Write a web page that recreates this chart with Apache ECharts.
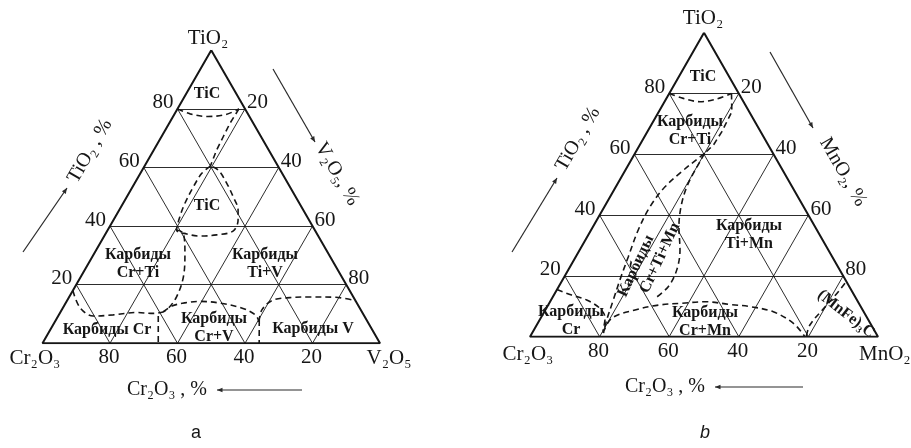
<!DOCTYPE html>
<html>
<head>
<meta charset="utf-8">
<script src="https://cdn.jsdelivr.net/npm/echarts@6/dist/echarts.min.js"></script>
<style>
html, body { margin: 0; padding: 0; background: #fff; }
#main { width: 911px; height: 448px; }
</style>
</head>
<body>
<div id="main"></div>
<script>
// ticks on every side of both triangles, %
var ticks = [20, 40, 60, 80];

// diagram a, points as [TiO2, Cr2O3, V2O5] %
var aTicTop = [[80, 20, 0], [78.3, 17.1, 4.6], [77.4, 12.3, 10.3], [78.1, 6.6, 15.3], [80, 1.8, 18.2]];
var aTicDiag = [[80, 1.8, 18.2], [75.1, 6.9, 18], [70.5, 11.2, 18.3], [66, 15.4, 18.6], [60.5, 20, 19.5]];
var aTicMid = [[60.5, 20, 19.5], [58, 23.8, 18.2], [53.4, 28.6, 18], [47.8, 33.9, 18.3], [43.2, 37.7, 19.1],
  [38.7, 40.9, 20.4], [37.3, 38.6, 24.1], [36.6, 35, 28.4], [37, 29.9, 33.1], [38.3, 24.4, 37.3],
  [42.1, 21, 36.9], [45.5, 19.3, 35.2], [50, 18.5, 31.5], [54.6, 18.1, 27.3], [59.1, 18.35, 22.55], [60.5, 20, 19.5]];
var aCrTi = [[38.7, 40.9, 20.4], [37.5, 39.5, 23], [30.7, 42.45, 26.85], [22.7, 46.9, 30.4],
  [15.9, 52.3, 31.8], [11.9, 56.8, 31.3], [10.7, 58.9, 30.4]];
var aCr = [[18, 82, 0], [12.2, 82.8, 5], [9.3, 80.3, 10.4], [9.7, 74.2, 16.1], [10.5, 66.9, 22.6],
  [10.2, 62.1, 27.7], [10.7, 58.9, 30.4]];
var aCrV = [[10.7, 58.9, 30.4], [12.7, 55.3, 32], [13.8, 50.9, 35.3], [14.3, 46.2, 39.5], [13.7, 40.5, 45.8],
  [11.9, 34.65, 53.45], [9.5, 32, 58.5], [7.3, 32.2, 60.5]];
var aV = [[7.3, 32.2, 60.5], [11.4, 29.3, 59.3], [14.6, 24.7, 60.7], [15.6, 18.9, 65.5], [15.8, 12.85, 71.35],
  [15.7, 5.2, 79.1], [14.5, 0, 85.5]];
var aCut1 = [[9.3, 61.05, 29.65], [0, 65.7, 34.3]];
var aCut2 = [[7.95, 31.8, 60.25], [0, 35.8, 64.2]];

// diagram b, points as [TiO2, Cr2O3, MnO2] %
var bTicTop = [[80, 20, 0], [78.4, 16.75, 4.85], [77.3, 12.5, 10.2], [78.2, 7.25, 14.55], [80, 2.1, 17.9]];
var bTicDiag = [[80, 2.1, 17.9], [74, 5, 21], [67.4, 11.2, 21.4], [63.1, 15.7, 21.2], [60.3, 19.7, 20]];
var bLensL = [[60.3, 19.7, 20], [58.7, 22.3, 19], [54.3, 29.25, 16.45], [49.3, 36.55, 14.15], [42.8, 44.1, 13.1],
  [35.1, 51.35, 13.55], [26.3, 58.6, 15.1], [18.65, 64.85, 16.5], [12.07, 70.03, 17.9], [5.5, 75.2, 19.3], [1.2, 78.3, 20.5]];
var bLensR = [[60.3, 19.7, 20], [57.6, 22.35, 20.05], [50.5, 29.25, 20.25], [43.9, 34.45, 21.65], [36.2, 39.1, 24.7],
  [28.5, 42.65, 28.85], [21.9, 46.9, 31.2], [16.45, 52.05, 31.5], [12.6, 57.8, 29.6]];
var bCrMn = [[1.2, 78.4, 20.4], [6.05, 73.5, 20.45], [8.8, 65.4, 25.8], [10.4, 57.9, 31.7], [11, 50.9, 38.1],
  [11.5, 43.95, 44.55], [10.6, 37.2, 52.2], [9.9, 31.85, 58.25], [8.2, 26, 65.8], [4.4, 22.1, 73.5], [0, 21, 79]];
var bCr = [[15.5, 84.5, 0], [13.7, 81.2, 5.1], [12.07, 77.68, 10.25], [9.34, 75.26, 15.4], [6.15, 75.35, 18.5], [1.9, 78.1, 20]];
var bFe = [[17.6, 0.7, 81.7], [14.8, 4, 81.2], [9.4, 10.8, 79.8], [3.85, 17.65, 78.5], [0, 20.6, 79.4]];

// ternary -> cartesian (x: right component + top/2, y: top component)
function xy(p) { return [p[2] + p[0] / 2, p[0]]; }

var ink = '#161616';
var serif = '"Liberation Serif", "DejaVu Serif", serif';

function frameSeries(i) {
  var outline = [[100, 0, 0], [0, 100, 0], [0, 0, 100], [100, 0, 0]].map(xy);
  var grid = [];
  ticks.forEach(function (k) {
    grid.push({ coords: [xy([k, 100 - k, 0]), xy([k, 0, 100 - k])] });
    grid.push({ coords: [xy([0, 100 - k, k]), xy([100 - k, 0, k])] });
    grid.push({ coords: [xy([0, k, 100 - k]), xy([100 - k, k, 0])] });
  });
  return [
    { type: 'lines', coordinateSystem: 'cartesian2d', xAxisIndex: i, yAxisIndex: i, silent: true,
      data: grid, lineStyle: { color: ink, width: 1, opacity: 0.9 } },
    { type: 'line', xAxisIndex: i, yAxisIndex: i, silent: true, showSymbol: false,
      data: outline, lineStyle: { color: ink, width: 2 } }
  ];
}

function tickSeries(i) {
  var lab = { show: true, color: ink, opacity: 1, fontFamily: serif, fontSize: 21,
    formatter: function (d) { return d.value[2]; } };
  function one(pts, label) {
    return { type: 'scatter', xAxisIndex: i, yAxisIndex: i, symbolSize: 0, silent: true,
      itemStyle: { opacity: 1 }, data: pts, label: Object.assign(label, lab) };
  }
  return [
    one(ticks.map(function (k) { return xy([k, 100 - k, 0]).concat(k); }), { position: 'left', distance: 4, offset: [0, -6] }),
    one(ticks.map(function (k) { return xy([100 - k, 0, k]).concat(k); }), { position: 'right', distance: 2, offset: [0, -6] }),
    one(ticks.map(function (k) { return xy([0, k, 100 - k]).concat(k); }), { position: 'bottom', distance: 4, offset: [-1, 0] })
  ];
}

function dashed(i, pts, smooth) {
  return { type: 'line', xAxisIndex: i, yAxisIndex: i, silent: true, showSymbol: false,
    smooth: smooth === undefined ? 0.35 : smooth, data: pts.map(xy),
    lineStyle: { color: ink, width: 1.6, type: [6, 4] } };
}

function txt(x, y, s, font, rot, align) {
  return { type: 'text', x: x, y: y, rotation: (rot || 0) * Math.PI / 180, silent: true,
    style: { text: s, fill: ink, font: font, align: align || 'center', verticalAlign: 'middle',
      textAlign: align || 'center', textVerticalAlign: 'middle', lineHeight: 18 } };
}

function arrow(x1, y1, x2, y2) {
  var a = Math.atan2(y2 - y1, x2 - x1), s = 6;
  return [
    { type: 'line', silent: true, shape: { x1: x1, y1: y1, x2: x2, y2: y2 }, style: { stroke: '#2a2a2a', lineWidth: 1.2 } },
    { type: 'polygon', silent: true, shape: { points: [[x2, y2],
      [x2 - s * Math.cos(a - 0.4), y2 - s * Math.sin(a - 0.4)],
      [x2 - s * Math.cos(a + 0.4), y2 - s * Math.sin(a + 0.4)]] }, style: { fill: '#2a2a2a' } }
  ];
}

var big = '21px ' + serif;
var mid = '20px ' + serif;
var reg = 'bold 16px ' + serif;

var graphics = [
  // a
  txt(208, 38, 'TiO₂', big), txt(35, 358, 'Cr₂O₃', big), txt(389, 358, 'V₂O₅', big),
  txt(90, 151, 'TiO₂ , %', mid, 60), txt(337, 174, 'V₂O₅, %', mid, -60),
  txt(167, 390, 'Cr₂O₃ , %', mid),
  txt(207, 94, 'TiC', reg), txt(207, 206, 'TiC', reg),
  txt(138, 264, 'Карбиды\nCr+Ti', reg), txt(265, 264, 'Карбиды\nTi+V', reg),
  txt(107, 330, 'Карбиды Cr', reg), txt(214, 328, 'Карбиды\nCr+V', reg), txt(313, 329, 'Карбиды V', reg),
  txt(196, 433, 'a', '18px "Liberation Sans", Arial, sans-serif'),
  // b
  txt(703, 18, 'TiO₂', big), txt(528, 354, 'Cr₂O₃', big), txt(859, 354, 'MnO₂', big, 0, 'left'),
  txt(578, 139, 'TiO₂ , %', mid, 60), txt(843, 172, 'MnO₂, %', mid, -60),
  txt(665, 387, 'Cr₂O₃ , %', mid),
  txt(703, 77, 'TiC', reg),
  txt(690, 131, 'Карбиды\nCr+Ti', reg), txt(749, 235, 'Карбиды\nTi+Mn', reg),
  txt(571, 321, 'Карбиды\nCr', reg), txt(705, 322, 'Карбиды\nCr+Mn', reg),
  txt(636, 266, 'Карбиды', reg, 65), txt(660, 258, 'Cr+Ti+Mn', reg, 65),
  txt(846, 314, '(MnFe)₃C', reg, -38),
  txt(705, 433, 'b', 'italic 18px "Liberation Sans", Arial, sans-serif')
]
  .concat(arrow(23, 252, 67, 188), arrow(273, 69, 315, 142), arrow(302, 390, 217, 390))
  .concat(arrow(512, 252, 557, 178), arrow(770, 52, 813, 128), arrow(803, 387, 715, 387));

var series = []
  .concat(frameSeries(0), tickSeries(0))
  .concat([aTicTop, aTicMid, aCrTi, aCr, aCrV, aV].map(function (p) { return dashed(0, p); }))
  .concat([aTicDiag, aCut1, aCut2].map(function (p) { return dashed(0, p, 0); }))
  .concat(frameSeries(1), tickSeries(1))
  .concat([bTicTop, bLensL, bLensR, bCrMn, bCr, bFe].map(function (p) { return dashed(1, p); }))
  .concat([bTicDiag].map(function (p) { return dashed(1, p, 0); }));

var axis = { type: 'value', min: 0, max: 100, show: false };

var myChart = echarts.init(document.getElementById('main'), null, { renderer: 'canvas' });
myChart.setOption({
  animation: false,
  backgroundColor: '#fff',
  grid: [
    { left: 42.5, top: 50.3, width: 337.5, height: 293 },
    { left: 530, top: 32.7, width: 348, height: 304 }
  ],
  xAxis: [Object.assign({ gridIndex: 0 }, axis), Object.assign({ gridIndex: 1 }, axis)],
  yAxis: [Object.assign({ gridIndex: 0 }, axis), Object.assign({ gridIndex: 1 }, axis)],
  series: series,
  graphic: graphics
});
</script>
</body>
</html>
